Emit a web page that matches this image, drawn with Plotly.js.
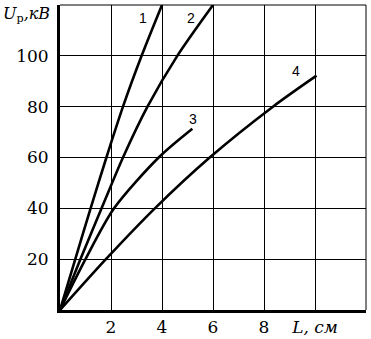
<!DOCTYPE html>
<html>
<head>
<meta charset="utf-8">
<script src="https://cdn.plot.ly/plotly-3.0.1.min.js"></script>
<style>html,body{margin:0;padding:0;background:#fff;}#chart{width:371px;height:339px;}</style>
</head>
<body>
<div id="chart"></div>
<script>
// Data (L in cm, Up in kV)
const curveNames = ["1", "2", "3", "4"];
const curve1L = [0, 0.6, 1.2, 1.82, 2.47, 3.2, 4.0];
const curve1U = [0, 20, 40, 60, 80, 100, 120];
const curve2L = [0, 0.8, 1.63, 2.47, 3.43, 4.6, 6.0];
const curve2U = [0, 20, 40, 60, 80, 100, 120];
const curve3L = [0, 1.0, 2.12, 3.87, 5.19];
const curve3U = [0, 20, 40, 60, 71.3];
const curve4L = [0, 1.8, 3.72, 5.87, 8.35, 10.06];
const curve4U = [0, 20, 40, 60, 80, 92.2];
const xTickVals = [2, 4, 6, 8, 10];
const xTickText = ["2", "4", "6", "8", "<i>L, см</i>"];
const yTickVals = [20, 40, 60, 80, 100];
const yTickText = ["20", "40", "60", "80", "100"];
const yTitle = "<i>U</i><sub>р</sub><i>,кВ</i>";

const serif = "DejaVu Serif";
const lineStyle = {color: "#000", width: 2.6, shape: "spline", smoothing: 0.8};
const series = [[curve1L, curve1U], [curve2L, curve2U], [curve3L, curve3U], [curve4L, curve4U]];
const traces = series.map((s, i) => ({
  x: s[0], y: s[1], type: "scatter", mode: "lines", name: curveNames[i],
  line: lineStyle, hoverinfo: "skip"
}));

const labelPos = [[3.25, 115], [5.15, 115], [5.2, 75], [9.25, 94]];
const annotations = curveNames.map((n, i) => ({
  x: labelPos[i][0], y: labelPos[i][1], xref: "x", yref: "y", text: n,
  showarrow: false, font: {family: "Liberation Sans", size: 14, color: "#000"}
}));
annotations.push({
  x: 0, y: 1, xref: "paper", yref: "paper", xanchor: "right", yanchor: "top",
  xshift: -8, yshift: 3, text: yTitle, showarrow: false,
  font: {family: serif, size: 16, color: "#000"}
});

const layout = {
  width: 371, height: 339,
  margin: {l: 60, r: 5, t: 5, b: 29, pad: 0},
  paper_bgcolor: "#fff", plot_bgcolor: "#fff",
  showlegend: false,
  font: {family: serif, color: "#000", size: 17},
  xaxis: {
    range: [0, 12], tickmode: "array", tickvals: xTickVals, ticktext: xTickText,
    showgrid: true, gridcolor: "#000", gridwidth: 1, zeroline: false,
    showline: true, linecolor: "#000", linewidth: 3, ticks: "",
    tickfont: {family: serif, size: 17, color: "#000"}, fixedrange: true
  },
  yaxis: {
    range: [0, 120], tickmode: "array", tickvals: yTickVals, ticktext: yTickText,
    showgrid: true, gridcolor: "#000", gridwidth: 1, zeroline: false,
    showline: true, linecolor: "#000", linewidth: 3, ticks: "", ticklabelstandoff: 5,
    tickfont: {family: serif, size: 17, color: "#000"}, fixedrange: true
  },
  shapes: [
    {type: "line", xref: "paper", yref: "paper", x0: 0, x1: 1, y0: 1, y1: 1, line: {color: "#000", width: 1}},
    {type: "line", xref: "paper", yref: "paper", x0: 1, x1: 1, y0: 0, y1: 1, line: {color: "#000", width: 1}}
  ],
  annotations: annotations
};

Plotly.newPlot("chart", traces, layout, {displayModeBar: false, staticPlot: true});
</script>
</body>
</html>
